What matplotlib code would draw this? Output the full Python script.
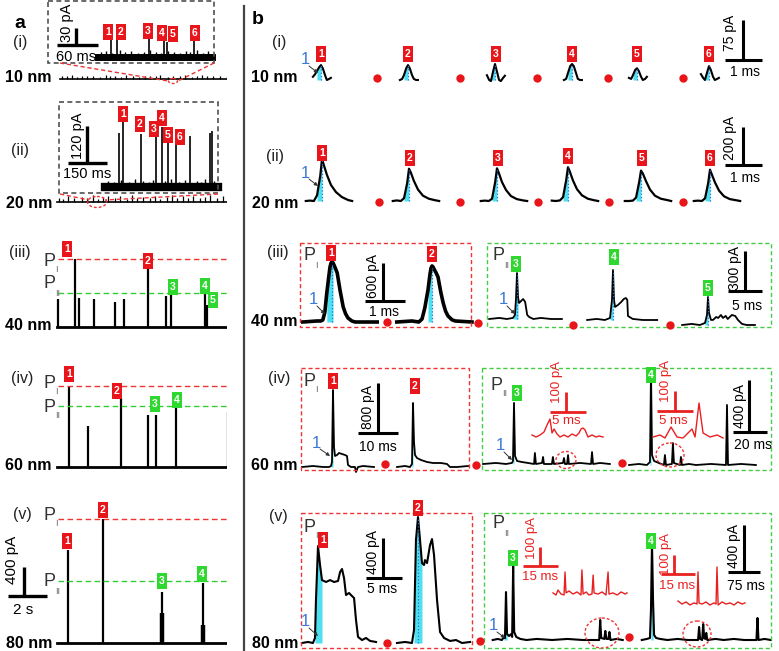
import numpy as np
import matplotlib
matplotlib.use("Agg")
import matplotlib.pyplot as plt
from matplotlib.patches import Rectangle, Ellipse

plt.rcParams['font.family'] = ['Liberation Sans', 'DejaVu Sans']

W, H = 779, 651
RED = '#e8151b'
GREEN = '#2fd82f'
CYAN = '#4fe0f0'
BLUE = '#3c78d8'
GRAY = '#505050'

# ---------------- data: panel a (time in s, current in pA) ----------------
REC_LEN = 9.29
ai_t = [0.26, 0.51, 0.77, 1.03, 1.28, 1.54, 1.85, 2.21, 2.51, 2.72, 2.98, 3.28, 3.54, 3.90, 4.21, 4.51,
        4.77, 5.08, 5.28, 5.69, 5.95, 6.31, 6.57, 6.93, 7.18, 7.44, 7.70, 8.00, 8.36, 8.72, 9.03]
ai_h = [40, 35, 50, 30, 45, 38, 42, 30, 50, 36, 44, 33, 48, 38, 30, 46, 40, 35, 52, 32, 44, 38, 47, 30,
        42, 50, 36, 40, 45, 34, 48]
aii_t = [0.10, 0.31, 0.56, 0.87, 1.28, 1.54, 1.85, 2.10, 2.36, 2.62, 2.98, 3.23, 3.59, 3.85, 4.10, 4.41,
         4.77, 5.03, 5.28, 5.64, 5.90, 6.16, 6.46, 6.72, 6.98, 7.34, 7.59, 7.85, 8.21, 8.51, 8.77, 9.03]
aii_h = [60, 45, 80, 55, 70, 50, 90, 40, 65, 85, 55, 75, 45, 100, 60, 70, 50, 80, 45, 65, 90, 55, 75, 60,
         85, 50, 70, 95, 55, 80, 110, 65]
aiii_t = [0.05, 0.92, 1.13, 1.90, 2.98, 3.44, 4.67, 5.59, 5.85, 7.59, 7.70]
aiii_h = [373, 907, 387, 373, 333, 373, 773, 413, 453, 440, 293]
aiii_P = [907, 453]
aiv_t = [0.62, 1.59, 3.28, 4.67, 5.08, 6.10, 8.77]
aiv_h = [1080, 547, 920, 693, 693, 800, 733]
aiv_P = [1080, 813]
av_t = [0.56, 2.36, 5.39, 7.49, 9.03]
av_h = [1240, 1653, 680, 800, 1427]
av_shoulder_t = [5.39, 7.49]
av_shoulder_h = [400, 240]
av_P = [1653, 827]

# insets of panel a (time in ms, current in pA)
ai_in_len = 167
ai_in_t = [19.0, 27.8, 74.6, 96.6, 101.0, 140.5]
ai_in_h = [33.5, 30, 40.6, 33.5, 26.5, 30]
ai_in_nt = [4.4, 11.7, 20.5, 32.2, 39.5, 48.3, 58.5, 67.3, 76.1, 84.9, 92.2, 102.4, 111.2, 120, 128.7,
            134.6, 144.8, 153.6, 160.9]
ai_in_nh = [9, 11, 7, 12, 9, 11, 7, 9, 12, 9, 7, 11, 9, 7, 11, 9, 12, 7, 11]
aii_in_len = 435
aii_in_t = [53.8, 69.2, 138.5, 196.2, 219.2, 242.3, 273.1, 326.9, 403.8, 411.5]
aii_in_h = [175, 211, 172, 178, 195, 152, 143, 165, 175, 182]
aii_in_nt = [11.5, 34.6, 61.5, 92.3, 115.4, 146.2, 169.2, 184.6, 230.8, 253.8, 284.6, 307.7, 353.8,
             369.2, 384.6, 419.2]
aii_in_nh = [19, 16, 23, 16, 26, 19, 16, 23, 19, 26, 16, 23, 19, 16, 26, 19]

# ---------------- data: panel b (time in ms relative to peak, current in pA) ----------------
bi_t = [-0.18, -0.13, -0.09, -0.04, 0, 0.04, 0.09, 0.13, 0.18, 0.22]
bi_I = [[6, 11, 17, 24, 28, 22, 9, 0, 2, 4],
        [0, 2, 9, 22, 28, 22, 9, 2, 0, 0],
        [9, 0, -2, 17, 30, 17, 0, -2, 4, 8],
        [0, 2, 13, 26, 30, 26, 13, 2, 0, 0],
        [4, 2, 9, 19, 22, 17, 6, 0, 2, 6],
        [11, 4, 0, 15, 26, 19, 6, 0, 2, 4]]
bii_t = [-0.36, -0.27, -0.18, -0.11, -0.04, 0, 0.04, 0.11, 0.2, 0.31, 0.44, 0.58, 0.67]
bii_I = [[0, 2, 0, 30, 130, 220, 190, 137, 84, 47, 21, 5, 0],
         [0, 3, 0, 15, 95, 170, 150, 105, 60, 28, 12, 4, 0],
         [0, 2, 0, 12, 100, 172, 148, 100, 58, 26, 10, 3, 0],
         [2, 0, 3, 20, 110, 178, 155, 108, 62, 30, 12, 4, 0],
         [0, 0, 2, 18, 100, 160, 145, 105, 60, 28, 12, 5, 0],
         [0, 2, 0, 14, 95, 165, 140, 98, 55, 25, 10, 4, 0]]

biii1_t = [-0.73, -0.38, -0.28, -0.23, -0.18, -0.13, -0.08, -0.05, -0.025, 0, 0.025, 0.05, 0.09, 0.13,
           0.2, 0.28, 0.34, 0.4, 0.5, 0.58, 1.13]
biii1_I = [0, 16, 16, 32, 150, 458, 720, 869, 930, 948, 935, 900, 840, 774, 506, 237, 130, 63, 15, 0, 0]
biii2_t = [-0.88, -0.5, -0.33, -0.25, -0.18, -0.1, -0.05, -0.025, 0, 0.025, 0.05, 0.1, 0.15, 0.22, 0.28,
           0.34, 0.4, 0.5, 0.58, 1.0]
biii2_I = [0, 16, 0, 47, 221, 506, 758, 850, 885, 870, 837, 780, 711, 470, 300, 170, 95, 35, 16, 0]
biii3_t = [-4.1, -2.6, -1.5, -0.6, -0.3, -0.15, 0, 0.15, 0.3, 0.6, 0.9, 1.2, 1.5, 1.8, 2.4, 3.5, 5.0, 6.6]
biii3_I = [0, 8, 0, 8, 30, 150, 345, 165, 120, 135, 150, 128, 30, 15, 0, 8, 0, 0]
biii4_t = [-3.8, -2.4, -1.2, -0.44, -0.15, 0, 0.15, 0.3, 0.74, 1.2, 1.6, 1.9, 2.1, 2.2, 2.9, 4.4, 6.5]
biii4_I = [0, 8, 0, 15, 150, 375, 150, 98, 113, 135, 158, 165, 150, 30, 8, 0, 0]
biii5_t = [-3.8, -2.4, -1.2, -0.44, -0.15, 0, 0.15, 0.44, 0.74, 1.2, 1.5, 1.9, 2.2, 2.6, 2.9, 3.5, 4.0,
           4.4, 5.0, 5.7, 6.9]
biii5_I = [0, 8, 0, 15, 75, 210, 90, 38, 38, 60, 53, 75, 53, 68, 45, 75, 68, 38, 8, 0, 0]

biv1_t = [-7.75, -5, -2.5, -1, -0.5, -0.25, 0, 0.25, 0.5, 1, 1.5, 2.25, 3, 3.5, 3.75, 4.5, 5.5, 5.75,
          6.25, 7.5, 10.25]
biv1_I = [0, 16, 0, 0, 16, 80, 1232, 320, 176, 192, 224, 208, 192, 176, 32, 0, 0, -80, 0, 16, 0]
biv2_t = [-4, -2, -0.75, -0.25, 0, 0.25, 0.5, 1, 2, 3.5, 5, 7, 8.5, 9.25, 11, 13.75]
biv2_I = [0, 16, 0, 48, 1024, 400, 192, 144, 112, 80, 64, 64, 48, 0, 0, 16]
biv3_t = [-18.2, -10.6, -4.7, -1.2, -0.6, 0, 0.6, 1.8, 4.7, 8.2, 11.8, 12.3, 12.9, 16.5, 17.1, 17.6, 22.3,
          22.9, 23.5, 28.8, 29.4, 30.0, 31.2, 31.8, 32.3, 38.8, 45.3, 45.9, 46.5, 50.6, 56.4]
biv3_I = [0, 8, 0, 8, 23, 470, 62, 23, 15, 8, 0, 85, 0, 8, 54, 0, 0, 54, 0, 8, 46, 0, 0, 69, 0, 8, 0,
          92, 0, 8, 0]
biv4_t = [-12.9, -7.1, -2.4, -0.6, 0, 0.6, 1.8, 4.7, 7.6, 8.2, 8.8, 12.3, 12.9, 13.5, 17.1, 17.6, 18.2,
          22.3, 26.5, 35.3, 44.1, 44.7, 45.3, 52.9, 61.7]
biv4_I = [0, 8, 0, 23, 732, 77, 31, 15, 0, 77, 0, 8, 169, 15, 0, 62, 0, 8, 0, 8, 0, 462, 0, 8, 0]
biv_zA_t = [0, 0.56, 1.11, 1.67, 2.09, 2.5, 2.78, 3.06, 3.48, 3.89, 4.45, 5.0, 5.56, 6.12, 6.53, 6.81,
            7.09, 7.37, 7.78, 8.34, 8.9, 9.31, 9.87]
biv_zA_I = [10, 0, 10, 25, 60, 90, 20, 40, 15, 0, 10, 0, 15, 5, 20, 40, 45, 35, 0, 10, 0, 5, 0]
biv_zB_t = [0, 0.97, 1.67, 2.5, 3.34, 4.17, 5.0, 5.42, 5.84, 6.39, 6.95, 7.92, 8.9, 9.73]
biv_zB_I = [0, 10, -5, 50, 0, -5, 25, 40, 0, 170, 20, 0, 10, -5]

bv1_t = [-2.29, -1.43, -0.72, -0.43, -0.29, 0, 0.29, 0.57, 1.14, 1.72, 2.29, 2.86, 3.15, 3.43, 3.72, 4.0,
         4.43, 4.86, 5.15, 5.43, 5.72, 6.29, 6.86, 7.44, 8.29]
bv1_I = [0, 10, 0, 49, 419, 946, 761, 614, 595, 614, 595, 605, 692, 722, 634, 468, 488, 458, 439, 224,
         59, 29, 49, 20, 10]
bv2_t = [-3.0, -1.86, -0.86, -0.57, -0.29, 0, 0.29, 0.57, 0.86, 1.0, 1.29, 1.72, 2.0, 2.29, 2.72, 3.15,
         3.72, 4.58, 5.43, 6.29, 7.44]
bv2_I = [0, 10, 0, 127, 1004, 1229, 1004, 780, 761, 809, 780, 956, 1014, 858, 419, 107, 49, 20, 29, 0, 10]
bv3_t = [-31.2, -19.2, -9.6, -4.8, -2.4, 0, 2.4, 7.2, 12, 14.4, 16.8, 19.2, 24, 33.6, 48, 72, 108, 144,
         180, 218.4, 220.8, 223.2, 230.4, 232.8, 235.2, 240, 242.4, 244.8, 259.2, 273.6]
bv3_I = [0, 9, 0, 26, 17, 408, 51, 34, 51, 26, 638, 68, 26, 9, 0, 9, 0, 9, 0, 0, 170, 17, 9, 77, 9, 9, 68,
         0, 9, 0]
bv4_t = [-24, -12, -4.8, -2.4, 0, 2.4, 4.8, 9.6, 19.2, 36, 60, 84, 108, 110.4, 112.8, 117.6, 120, 122.4,
         124.8, 127.2, 129.6, 148.8, 168, 192, 216, 244.8, 247.2, 249.6, 264, 278.4]
bv4_I = [0, 9, 17, 255, 833, 340, 43, 17, 9, 0, 9, 0, 0, 111, 9, 0, 136, 17, 9, 60, 0, 9, 0, 9, 0, 0, 187,
         0, 9, 0]
bv_zA_t = [0, 1.29, 2.15, 3.43, 4.72, 5.15, 5.58, 6.86, 8.58, 10.3, 12.0, 12.4, 12.9, 14.2, 15.4, 16.7,
           17.2, 17.6, 19.3, 21.0, 22.7, 23.6, 24.0, 25.7, 27.5, 29.2, 30.9, 31.7]
bv_zA_I = [11, 0, 26, 5, 0, 121, 11, 21, 5, 16, 0, 132, 5, 16, 0, 5, 105, 11, 5, 16, 0, 121, 5, 11, 0, 16,
           5, 11]
bv_zB_t = [0, 1.72, 3.43, 5.15, 6.86, 8.15, 8.58, 9.01, 10.3, 12.0, 13.7, 15.4, 16.3, 16.7, 17.2, 18.9,
           20.6, 22.3, 24.0, 25.7, 27.5, 28.7]
bv_zB_I = [21, 5, 16, 0, 11, 5, 174, 11, 5, 16, 0, 11, 5, 200, 0, 16, 5, 11, 0, 16, 5, 11]

# ---------------- figure ----------------
fig = plt.figure(figsize=(W / 100, H / 100), dpi=100)


def tax(xc, yb, tpp, upp):
    """axes whose data origin (t=0, I=0) falls at pixel (xc, yb)."""
    hw, hh = 170, 170
    a = fig.add_axes([(xc - hw) / W, 1 - (yb + hh) / H, 2 * hw / W, 2 * hh / H])
    a.set_xlim(-hw * tpp, hw * tpp)
    a.set_ylim(-hh * upp, hh * upp)
    a.axis('off')
    return a


def peak(a, t, I, lw=1.5, flo=-0.1, fhi=0.0, dotted=True):
    t = np.asarray(t, float)
    I = np.asarray(I, float)
    m = (t >= flo) & (t <= fhi)
    a.fill_between(t[m], I[m], 0, color=CYAN, lw=0)
    a.plot(t, I, color='k', lw=lw, solid_joinstyle='round')
    if dotted:
        a.plot([0, 0], [0, I[t == 0][0]], ':', color='#2a6fd6', lw=0.9)


# ---- panel a main traces ----
A_TPP, A_UPP = 2 / 39, 400 / 30
a1 = tax(57, 79, A_TPP, A_UPP)
a1.plot([0.15, REC_LEN], [0, 0], color='k', lw=1.2)
a1.vlines(ai_t, 0, ai_h, color='k', lw=0.9)
a2 = tax(57, 202, A_TPP, A_UPP)
a2.plot([0, REC_LEN], [0, 0], color='k', lw=1.2)
a2.vlines(aii_t, 0, aii_h, color='k', lw=0.9)
for yb, ts, hs, P in [(327, aiii_t, aiii_h, aiii_P), (467, aiv_t, aiv_h, aiv_P), (643, av_t, av_h, av_P)]:
    a = tax(57, yb, A_TPP, A_UPP)
    a.plot([0, REC_LEN], [0, 0], color='k', lw=2)
    a.vlines(ts, 0, hs, color='k', lw=1.6)
    a.plot([0.05, REC_LEN], [P[0], P[0]], color='#ee3333', lw=1, dashes=(4, 2.5))
    a.plot([0.05, REC_LEN], [P[1], P[1]], color='#33cc33', lw=1, dashes=(4, 2.5))
    if yb == 643:
        a.vlines(av_shoulder_t, 0, av_shoulder_h, color='k', lw=3.2)

# ---- panel a insets ----
ai = tax(98, 57, 60 / 41, 30 / 17)
ai.plot([0, ai_in_len], [0, 0], color='k', lw=5)
ai.vlines(ai_in_nt, 0, ai_in_nh, color='k', lw=1)
ai.vlines(ai_in_t, 0, ai_in_h, color='k', lw=1.2)
aii = tax(105, 187, 150 / 39, 120 / 37)
aii.plot([0, aii_in_len], [0, 0], color='k', lw=6)
aii.vlines(aii_in_nt, 0, aii_in_nh, color='k', lw=1)
aii.vlines(aii_in_t, 0, aii_in_h, color='k', lw=1.2)

# ---- panel b (i), (ii) ----
for xc, I in zip([321, 408, 495, 572, 637, 709], bi_I):
    peak(tax(xc, 80, 1 / 45, 75 / 40), bi_t, I, lw=1.5, flo=-0.09)
for xc, I in zip([322, 409, 497, 568, 641, 710], bii_I):
    peak(tax(xc, 201, 1 / 45, 200 / 38), bii_t, I, lw=1.6, flo=-0.11)

# ---- panel b (iii) ----
peak(tax(332, 322, 1 / 40, 600 / 38), biii1_t, biii1_I, lw=2.6, flo=-0.13, fhi=0.03)
peak(tax(432, 322, 1 / 40, 600 / 38), biii2_t, biii2_I, lw=2.6, flo=-0.1)
peak(tax(517, 319, 5 / 34, 300 / 40), biii3_t, biii3_I, lw=1.3, flo=-0.6, fhi=0.15)
peak(tax(613, 320, 5 / 34, 300 / 40), biii4_t, biii4_I, lw=1.3, flo=-0.44)
peak(tax(708, 325, 5 / 34, 300 / 40), biii5_t, biii5_I, lw=1.3, flo=-0.44)

# ---- panel b (iv) ----
peak(tax(333, 467, 10 / 40, 800 / 50), biv1_t, biv1_I, lw=1.3, flo=-0.5, dotted=False)
peak(tax(413, 467, 10 / 40, 800 / 50), biv2_t, biv2_I, lw=1.3, flo=-0.25, dotted=False)
peak(tax(514, 464, 20 / 34, 400 / 52), biv3_t, biv3_I, lw=1.3, flo=-0.6, dotted=False)
peak(tax(651, 465, 20 / 34, 400 / 52), biv4_t, biv4_I, lw=1.3, flo=-0.6, dotted=False)
zA = tax(532, 437, 5 / 36, 100 / 20)
zA.plot(biv_zA_t, biv_zA_I, color='#e82020', lw=1)
zB = tax(653, 437, 5 / 36, 100 / 20)
zB.plot(biv_zB_t, biv_zB_I, color='#e82020', lw=1)

# ---- panel b (v) ----
peak(tax(318, 643, 5 / 35, 400 / 41), bv1_t, bv1_I, lw=1.5, flo=-0.43, fhi=0.57, dotted=False)
peak(tax(418, 643, 5 / 35, 400 / 41), bv2_t, bv2_I, lw=1.5, flo=-0.57, fhi=0.57)
peak(tax(506, 640, 75 / 32, 400 / 47), bv3_t, bv3_I, lw=1.5, flo=-4.8, fhi=2.4, dotted=False)
peak(tax(652, 640, 75 / 32, 400 / 47), bv4_t, bv4_I, lw=1.5, flo=-2.4, fhi=2.4, dotted=False)
vA = tax(553, 595, 15 / 35, 100 / 19)
vA.plot(bv_zA_t, bv_zA_I, color='#e82020', lw=1)
vB = tax(678, 605, 15 / 35, 100 / 19)
vB.plot(bv_zB_t, bv_zB_I, color='#e82020', lw=1)

# ---------------- overlay (pixel coordinates) ----------------
ax0 = fig.add_axes([0, 0, 1, 1], zorder=10)
ax0.set_xlim(0, W)
ax0.set_ylim(H, 0)
ax0.axis('off')

# separator
ax0.plot([244, 244], [6, H], color='#444444', lw=1.6)
ax0.text(20, 23, 'a', fontsize=14, fontweight='bold', ha='center', va='center')
ax0.text(258, 20, 'b', fontsize=14, fontweight='bold', ha='center', va='center')

# row labels
for x, y, s in [(20, 43, '(i)'), (20, 150, '(ii)'), (20, 253, '(iii)'), (22, 378, '(iv)'), (22, 514, '(v)'),
                (279, 43, '(i)'), (275, 157, '(ii)'), (278, 252, '(iii)'), (279, 378, '(iv)'),
                (278, 516, '(v)')]:
    ax0.text(x, y, s, fontsize=11.5, ha='center', va='center', color='#222')
for x, y, s in [(52, 78, '10 nm'), (52, 203, '20 nm'), (52, 325, '40 nm'), (52, 465, '60 nm'),
                (52, 643, '80 nm'), (298, 77, '10 nm'), (298, 203, '20 nm'), (298, 321, '40 nm'),
                (298, 465, '60 nm'), (298, 643, '80 nm')]:
    ax0.text(x, y, s, fontsize=11.5, fontweight='bold', ha='right', va='center')


def num(x, y, s, c):
    ax0.text(x, y, s, color='white', fontsize=7.5, fontweight='bold', ha='center', va='center',
             bbox=dict(boxstyle='square,pad=0.25', fc=c, ec='none'))


def plab(x, y, sub):
    ax0.text(x, y, 'P', fontsize=13, color='#333', ha='left', va='center')
    ax0.text(x + 11.5, y + 9, sub, fontsize=6.5, color='#666', ha='left', va='center')


def sbar(xv, yt, yb, xl, xr, ylab, xlab, ylx, yly, xly, c='k', fs=10, lw=2.2):
    ax0.plot([xv, xv], [yt, yb], color=c, lw=lw, solid_capstyle='butt')
    ax0.plot([xl, xr], [yb, yb], color=c, lw=lw, solid_capstyle='butt')
    ax0.text(ylx, yly, ylab, rotation=90, fontsize=fs, color=c, ha='center', va='center')
    ax0.text(xly[0], xly[1], xlab, fontsize=fs, color=c, ha='center', va='center')


def dbox(x0, y0, x1, y1, c, lw=1.0):
    ax0.add_patch(Rectangle((x0, y0), x1 - x0, y1 - y0, fill=False, ec=c, lw=lw, ls=(0, (3, 2))))


def blue1(x, y, tx, ty):
    ax0.text(x, y, '1', color=BLUE, fontsize=12, ha='center', va='center')
    ax0.annotate('', xy=(tx, ty), xytext=(x + 4, y + 6),
                 arrowprops=dict(arrowstyle='-|>', lw=0.7, color='#333', mutation_scale=5,
                                 shrinkA=0, shrinkB=0))


# ---- panel a inset decorations ----
dbox(48, 1, 214, 63, GRAY, 1.2)
dbox(59, 102, 218, 193, GRAY, 1.2)
sbar(76, 28, 45, 57, 98, '30 pA', '60 ms', 67, 23, (76, 57), fs=10.5, lw=2.4)
sbar(87, 126, 163, 68, 107, '120 pA', '150 ms', 78, 136, (87, 174), fs=10.5, lw=2.4)
for (x, y, s) in [(108, 32, '1'), (121, 32, '2'), (148, 31, '3'), (162, 33, '4'), (173, 34, '5'),
                  (195, 33, '6')]:
    num(x, y, s, RED)
for (x, y, s) in [(123, 114, '1'), (140, 124, '2'), (154, 129, '3'), (162, 118, '4'), (168, 135, '5'),
                  (180, 137, '6')]:
    num(x, y, s, RED)
ax0.plot([60, 168], [63, 81], color='#e33', lw=1, dashes=(3, 2))
ax0.plot([214, 178], [63, 81], color='#e33', lw=1, dashes=(3, 2))
ax0.add_patch(Ellipse((173, 81), 9, 5, fill=False, ec='#e33', lw=1, ls=(0, (2, 1.5))))
ax0.plot([60, 89], [194, 200], color='#e33', lw=1, dashes=(3, 2))
ax0.plot([218, 105], [194, 200], color='#e33', lw=1, dashes=(3, 2))
ax0.add_patch(Ellipse((97, 202), 19, 11, fill=False, ec='#e33', lw=1, ls=(0, (2, 1.5))))

# panel a (iii)-(v) labels
plab(44, 261, 'I'); plab(44, 284, 'II')
num(67, 249, '1', RED); num(148, 261, '2', RED)
num(173, 287, '3', GREEN); num(205, 286, '4', GREEN); num(213, 300, '5', GREEN)
plab(44, 383, 'I'); plab(44, 407, 'II')
num(69, 374, '1', RED); num(117, 391, '2', RED); num(155, 404, '3', GREEN); num(177, 400, '4', GREEN)
plab(44, 515, 'I'); plab(44, 582, 'II')
num(67, 541, '1', RED); num(103, 510, '2', RED); num(162, 581, '3', GREEN); num(202, 574, '4', GREEN)
sbar(24, 567, 596, 8, 47, '400 pA', '2 s', 12, 560, (23, 610), fs=11, lw=2.4)

# ---- panel b (i), (ii) decorations ----
for x, s in zip([321, 408, 496, 572, 637, 709], '123456'):
    num(x, 54, s, RED)
for x, y, s in zip([322, 410, 498, 568, 642, 710], [153, 158, 158, 156, 158, 158], '123456'):
    num(x, y, s, RED)
ax0.plot([377, 460, 537, 608, 683], [78] * 5, 'o', color=RED, ms=6, mec='none')
ax0.plot([379, 460, 538, 609, 683], [202] * 5, 'o', color=RED, ms=6, mec='none')
sbar(743, 20, 60, 725, 762, '75 pA', '1 ms', 730, 33, (745, 72))
sbar(743, 127, 165, 725, 762, '200 pA', '1 ms', 730, 138, (745, 178))
blue1(305, 60, 318, 73)
blue1(305, 173, 318, 186)

# ---- panel b (iii) ----
dbox(300, 243, 471, 327, '#e33')
dbox(487, 243, 771, 327, '#4c4')
plab(304, 256, 'I'); plab(493, 256, 'II')
num(331, 253, '1', RED); num(432, 254, '2', RED)
num(516, 264, '3', GREEN); num(614, 257, '4', GREEN); num(708, 288, '5', GREEN)
ax0.plot([387, 478, 573, 670], [322, 323, 325, 325], 'o', color=RED, ms=6, mec='none')
sbar(383, 263, 301, 365, 405, '600 pA', '1 ms', 373, 276, (384, 312))
sbar(745, 251, 291, 728, 762, '300 pA', '5 ms', 735, 268, (747, 306))
blue1(313, 300, 325, 314)
blue1(503, 300, 515, 314)

# ---- panel b (iv) ----
dbox(301, 368, 469, 470, '#e33')
dbox(482, 368, 771, 470, '#4c4')
plab(304, 381, 'I'); plab(491, 385, 'II')
num(333, 381, '1', RED); num(517, 393, '3', GREEN)
num(415, 386, '2', RED); num(651, 375, '4', GREEN)
ax0.plot([385, 476, 622], [464, 465, 463], 'o', color=RED, ms=6, mec='none')
sbar(378, 383, 433, 358, 398, '800 pA', '10 ms', 368, 407, (378, 447))
sbar(749, 380, 432, 733, 767, '400 pA', '20 ms', 740, 406, (753, 445))
sbar(566, 392, 412, 550, 586, '100 pA', '5 ms', 557, 382, (566, 421), c='#e82020', fs=9.5, lw=2)
sbar(675, 391, 411, 657, 693, '100 pA', '5 ms', 666, 381, (673, 421), c='#e82020', fs=9.5, lw=2)
ax0.add_patch(Ellipse((566, 460), 20, 17, fill=False, ec='#e33', lw=1, ls=(0, (2, 1.5))))
ax0.add_patch(Ellipse((670, 455), 28, 24, fill=False, ec='#e33', lw=1, ls=(0, (2, 1.5))))
blue1(316, 443, 330, 456)
blue1(500, 446, 512, 460)

# ---- panel b (v) ----
dbox(301, 513, 472, 648, '#e33')
dbox(484, 513, 771, 648, '#4c4')
plab(304, 527, 'I'); plab(493, 524, 'II')
num(323, 540, '1', RED); num(418, 508, '2', RED)
num(513, 558, '3', GREEN); num(651, 541, '4', GREEN)
ax0.plot([387, 480, 629], [643, 641, 637], 'o', color=RED, ms=6, mec='none')
sbar(383, 538, 578, 366, 402, '400 pA', '5 ms', 373, 552, (382, 589))
sbar(744, 525, 572, 728, 760, '400 pA', '75 ms', 734, 546, (746, 586))
sbar(540, 547, 566, 523, 558, '100 pA', '15 ms', 532, 538, (540, 577), c='#e82020', fs=9.5, lw=2)
sbar(674, 555, 574, 661, 695, '100 pA', '15 ms', 666, 554, (677, 586), c='#e82020', fs=9.5, lw=2)
ax0.add_patch(Ellipse((602, 633), 34, 30, fill=False, ec='#e33', lw=1, ls=(0, (2, 1.5))))
ax0.add_patch(Ellipse((697, 634), 28, 26, fill=False, ec='#e33', lw=1, ls=(0, (2, 1.5))))
blue1(305, 622, 318, 636)
blue1(493, 626, 505, 638)

fig.savefig('out.png', dpi=100)
